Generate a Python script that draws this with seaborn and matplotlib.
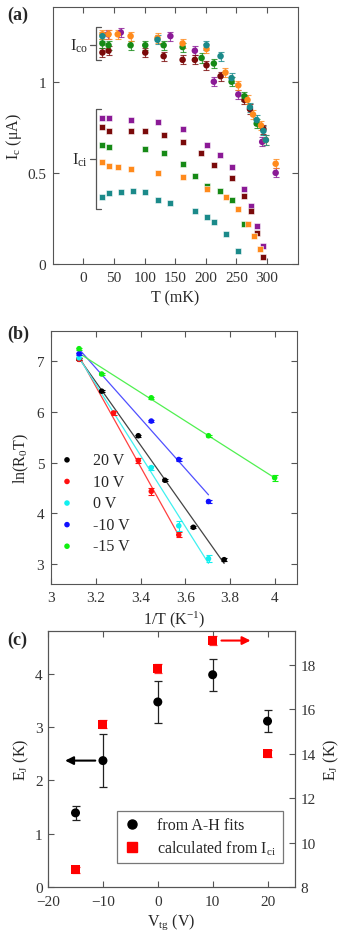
import numpy as np
import pandas as pd
import matplotlib
matplotlib.use("Agg")
import matplotlib.pyplot as plt
import seaborn as sns

sns.set_style("ticks")
plt.rcParams['font.family'] = ['Liberation Serif', 'DejaVu Serif']
plt.rcParams['mathtext.default'] = 'regular'
plt.rcParams['axes.edgecolor'] = '#555555'
plt.rcParams['xtick.color'] = '#555555'
plt.rcParams['ytick.color'] = '#555555'
plt.rcParams['xtick.labelcolor'] = '#333333'
plt.rcParams['ytick.labelcolor'] = '#333333'
plt.rcParams['font.size'] = 10.5

# ---------------- panel (a) data: Ic vs T (mK)
names_a = ['purple', 'maroon', 'green', 'orange', 'teal']
colors_a = {'purple': '#8B1A96', 'maroon': '#7A0A0A', 'green': '#168A16',
            'orange': '#FF8A1C', 'teal': '#1B8A8A'}

ico_T = {
    'purple': [40, 61, 142, 182, 213, 253, 292, 314],
    'maroon': [31, 41, 101, 131, 162, 182, 201, 224, 263, 272, 294],
    'green': [31, 41, 77, 101, 131, 162, 193, 213, 242, 263, 283],
    'orange': [31, 41, 56, 77, 121, 162, 201, 232, 253, 268, 277, 290, 298, 314],
    'teal': [31, 121, 201, 224, 242, 272, 283, 294, 298],
}
ico_I = {
    'purple': [1.26, 1.27, 1.25, 1.17, 1.00, 0.93, 0.67, 0.50],
    'maroon': [1.16, 1.17, 1.16, 1.14, 1.12, 1.12, 1.09, 1.03, 0.90, 0.85, 0.74],
    'green': [1.21, 1.20, 1.20, 1.20, 1.20, 1.19, 1.13, 1.10, 1.00, 0.92, 0.77],
    'orange': [1.26, 1.26, 1.26, 1.25, 1.24, 1.21, 1.18, 1.05, 0.98, 0.90, 0.82, 0.76, 0.68, 0.55],
    'teal': [1.25, 1.23, 1.20, 1.14, 1.02, 0.86, 0.79, 0.73, 0.68],
}
ico_err = 0.025

ici_T = {
    'purple': [31, 41, 77, 122, 162, 202, 223, 243, 263, 274, 284, 294],
    'maroon': [31, 41, 77, 101, 131, 162, 192, 213, 243, 263, 274, 284, 294],
    'green': [31, 41, 101, 131, 162, 183, 202, 223, 243, 263],
    'orange': [31, 41, 56, 77, 121, 162, 202, 233, 253, 268, 279, 289],
    'teal': [31, 41, 61, 81, 101, 121, 142, 183, 202, 213, 233, 253],
}
ici_I = {
    'purple': [0.80, 0.80, 0.79, 0.78, 0.74, 0.65, 0.60, 0.53, 0.41, 0.32, 0.21, 0.10],
    'maroon': [0.75, 0.73, 0.73, 0.73, 0.71, 0.67, 0.61, 0.545, 0.47, 0.375, 0.29, 0.17, 0.04],
    'green': [0.65, 0.64, 0.63, 0.61, 0.55, 0.485, 0.43, 0.40, 0.35, 0.22],
    'orange': [0.56, 0.54, 0.53, 0.52, 0.50, 0.475, 0.41, 0.37, 0.30, 0.22, 0.155, 0.08],
    'teal': [0.37, 0.39, 0.395, 0.40, 0.395, 0.35, 0.335, 0.29, 0.26, 0.23, 0.165, 0.07],
}

# ---------------- panel (b) data: ln(R0 T) vs 1/T
labels_b = ['20 V', '10 V', '0 V', '-10 V', '-15 V']
colors_b = ['black', '#FF1010', '#10F0F0', '#1010FF', '#10F010']
line_colors_b = ['#444444', '#FF4040', '#40F0F0', '#5050FF', '#50F050']
invT = [
    [3.125, 3.226, 3.390, 3.509, 3.636, 3.774],
    [3.125, 3.279, 3.390, 3.448, 3.571],
    [3.125, 3.448, 3.571, 3.704],
    [3.125, 3.448, 3.571, 3.704],
    [3.125, 3.226, 3.448, 3.704, 4.000],
]
lnR = [
    [7.04, 6.41, 5.53, 4.65, 3.72, 3.08],
    [7.04, 5.98, 5.04, 4.43, 3.57],
    [7.07, 4.90, 3.75, 3.10],
    [7.15, 5.82, 5.06, 4.23],
    [7.25, 6.75, 6.28, 5.53, 4.70],
]
lnR_err = [
    [0.02, 0.02, 0.02, 0.02, 0.02, 0.03],
    [0.02, 0.04, 0.04, 0.07, 0.05],
    [0.02, 0.04, 0.10, 0.07],
    [0.02, 0.02, 0.03, 0.03],
    [0.02, 0.02, 0.02, 0.02, 0.06],
]

# ---------------- panel (c) data: EJ vs Vtg
Vtg = [-15, -10, 0, 10, 20]
EJ_fit = [1.39, 2.37, 3.47, 3.98, 3.11]
EJ_fit_err = [0.13, 0.50, 0.40, 0.30, 0.20]
EJ_ici = [8.77, 15.34, 17.84, 19.10, 14.00]
EJ_ici_err = [0.15, 0.2, 0.2, 0.2, 0.15]

fig = plt.figure(figsize=(3.41, 9.37), dpi=100)

# ================= (a)
ax = fig.add_axes([0.155, 0.7172, 0.718, 0.2743])
for n in names_a:
    c = colors_a[n]
    ax.errorbar(ico_T[n], ico_I[n], yerr=ico_err, fmt='none', ecolor=c,
                elinewidth=0.8, capsize=2.2, capthick=0.8, alpha=0.8, zorder=2)
    sns.scatterplot(x=ico_T[n], y=ico_I[n], color=c, marker='o', s=22,
                    edgecolor='none', ax=ax, zorder=3)
    sns.scatterplot(x=ici_T[n], y=ici_I[n], color=c, marker='s', s=20,
                    edgecolor='white', linewidth=0.4, ax=ax, zorder=3)
ax.set_xlim(-50, 350)
ax.set_ylim(0, 1.41)
ax.set_xticks([0, 50, 100, 150, 200, 250, 300])
ax.set_yticks([0, 0.5, 1])
ax.set_yticklabels(['0', '0.5', '1'])
ax.tick_params(direction='in', top=True, right=True, length=4, labelsize=11, pad=5)
ax.set_xlabel('T (mK)', fontsize=11.5, labelpad=4)
ax.set_ylabel('I$_c$ (μA)', fontsize=11.5, labelpad=2)
# brackets
bk = dict(color='#555555', lw=0.9, clip_on=False)
ax.plot([29, 21, 21, 29], [1.30, 1.30, 1.12, 1.12], **bk)
ax.plot([10, 21], [1.20, 1.20], **bk)
ax.text(8, 1.20, 'I$_{co}$', ha='right', va='center', fontsize=12)
ax.plot([29, 21, 21, 29], [0.85, 0.85, 0.30, 0.30], **bk)
ax.plot([10, 21], [0.577, 0.577], **bk)
ax.text(8, 0.577, 'I$_{ci}$', ha='right', va='center', fontsize=12)
fig.text(0.02, 0.984, '(a)', fontsize=13, fontweight='bold', va='center')

# ================= (b)
ax = fig.add_axes([0.150, 0.3757, 0.721, 0.2700])
for i in range(5):
    sns.regplot(x=np.array(invT[i]), y=np.array(lnR[i]), ci=None, scatter=False,
                truncate=True, ax=ax, line_kws=dict(color=line_colors_b[i], lw=0.9))
    ax.errorbar(invT[i], lnR[i], yerr=lnR_err[i], fmt='none', ecolor=colors_b[i],
                elinewidth=0.8, capsize=2, capthick=0.8, zorder=3)
    sns.scatterplot(x=invT[i], y=lnR[i], color=colors_b[i], marker='o', s=16,
                    edgecolor='none', ax=ax, zorder=4, label=labels_b[i])
ax.set_xlim(3, 4.1)
ax.set_ylim(2.6, 7.6)
ax.set_xticks([3, 3.2, 3.4, 3.6, 3.8, 4])
ax.set_xticklabels(['3', '3.2', '3.4', '3.6', '3.8', '4'])
ax.set_yticks([3, 4, 5, 6, 7])
ax.tick_params(direction='in', top=True, right=True, length=4, labelsize=11, pad=5)
ax.set_xlabel('1/T (K$^{-1}$)', fontsize=11.5, labelpad=3)
ax.set_ylabel('ln(R$_0$T)', fontsize=11.5, labelpad=4)
ax.legend(loc='lower left', bbox_to_anchor=(-0.02, 0.06), frameon=False,
          fontsize=11.5, handlelength=0.8, handletextpad=1.2, labelspacing=0.35,
          markerscale=1.0)
fig.text(0.02, 0.643, '(b)', fontsize=13, fontweight='bold', va='center')

# ================= (c)
ax = fig.add_axes([0.141, 0.0523, 0.724, 0.2732])
ax2 = ax.twinx()
ax.errorbar(Vtg, EJ_fit, yerr=EJ_fit_err, fmt='none', ecolor='#222222',
            elinewidth=0.9, capsize=3, capthick=0.9, zorder=2)
sns.scatterplot(x=Vtg, y=EJ_fit, color='black', marker='o', s=42,
                edgecolor='none', ax=ax, zorder=3)
ax2.errorbar(Vtg, EJ_ici, yerr=EJ_ici_err, fmt='none', ecolor='#FF3030',
             elinewidth=0.9, capsize=3, capthick=0.9, zorder=2)
sns.scatterplot(x=Vtg, y=EJ_ici, color='#FF0000', marker='s', s=42,
                edgecolor='none', ax=ax2, zorder=3)
ax.set_xlim(-20, 25)
ax.set_ylim(0, 4.8)
ax2.set_ylim(8, 19.53)
ax.set_xticks([-20, -10, 0, 10, 20])
ax.set_yticks([0, 1, 2, 3, 4])
ax2.set_yticks([8, 10, 12, 14, 16, 18])
ax.tick_params(direction='in', top=True, length=4, labelsize=11, pad=4)
ax.tick_params(axis='x', pad=6)
ax2.tick_params(direction='in', length=4, labelsize=11, pad=4)
ax.set_xlabel('V$_{tg}$ (V)', fontsize=11.5, labelpad=2)
ax.set_ylabel('E$_J$ (K)', fontsize=11.5, labelpad=3)
ax2.set_ylabel('E$_J$ (K)', fontsize=11.5, labelpad=4)
ax.annotate('', xy=(-16.9, 2.37), xytext=(-11.4, 2.37),
            arrowprops=dict(arrowstyle='-|>', color='black', lw=1.5,
                            mutation_scale=12, shrinkA=0, shrinkB=0))
ax2.annotate('', xy=(16.9, 19.1), xytext=(11.6, 19.1),
             arrowprops=dict(arrowstyle='-|>', color='#FF0000', lw=1.5,
                             mutation_scale=12, shrinkA=0, shrinkB=0))
h1 = plt.Line2D([], [], color='black', marker='o', ls='none', ms=6.5)
h2 = plt.Line2D([], [], color='#FF0000', marker='s', ls='none', ms=6.5)
leg = ax.legend([h1, h2], ['from A-H fits', 'calculated from I$_{ci}$'],
                loc='lower right', bbox_to_anchor=(0.951, 0.094), fontsize=11.5,
                frameon=True, fancybox=False, edgecolor='#555555',
                handlelength=1.0, handletextpad=1.1, borderpad=0.4,
                labelspacing=0.3, borderaxespad=0)
leg.get_frame().set_linewidth(0.9)
fig.text(0.02, 0.317, '(c)', fontsize=13, fontweight='bold', va='center')

fig.savefig('out.png', dpi=100)
